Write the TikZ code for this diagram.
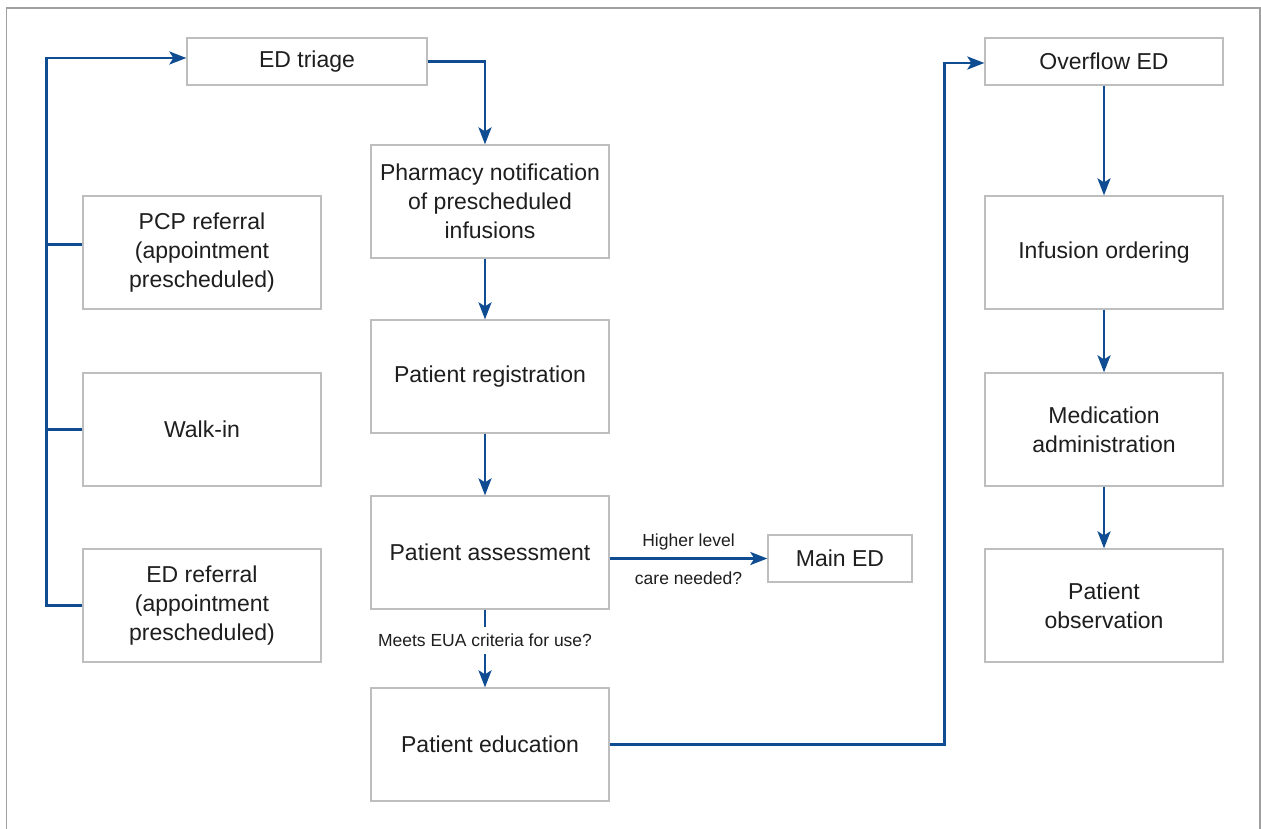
\documentclass[tikz,border=0pt]{standalone}
\usepackage{fontspec}
\setmainfont{Liberation Sans}
\usetikzlibrary{arrows.meta}
\definecolor{edblue}{RGB}{16,76,145}
\definecolor{boxgray}{RGB}{190,190,190}
\definecolor{framegray}{RGB}{160,160,160}
\definecolor{txt}{RGB}{30,30,30}
\tikzset{
  stepbox/.style={draw=boxgray, line width=1.3pt, fill=white, minimum width=238pt, minimum height=113pt,
    align=center, inner sep=0pt, text=txt, font=\fontsize{23}{29}\selectfont},
  shortbox/.style={stepbox, minimum height=47pt},
  link/.style={draw=edblue, line width=2.5pt},
  conn/.style={link, -{Stealth[length=17pt,width=13pt,inset=4pt]}},
  lbl/.style={text=txt, font=\fontsize{17.5}{20}\selectfont, inner sep=0pt},
}
\begin{document}
\begin{tikzpicture}[x=1pt,y=-1pt]
\useasboundingbox (0,0) rectangle (1261,828);
\draw[framegray, line width=1.5pt] (6.5,830) -- (6.5,8) -- (1260,8) -- (1260,830);

% left column
\node[shortbox, minimum width=240pt] (triage) at (307,61.5) {ED triage};
\node[stepbox] (pcp) at (202,252.5) {PCP referral\\(appointment\\prescheduled)};
\node[stepbox] (walk) at (202,429.5) {Walk-in};
\node[stepbox] (edref) at (202,605.5) {ED referral\\(appointment\\prescheduled)};

% middle column
\node[stepbox] (pharm) at (490,201.5) {Pharmacy notification\\of prescheduled\\infusions};
\node[stepbox] (reg) at (490,376.5) {Patient registration};
\node[stepbox] (assess) at (490,552.5) {Patient assessment};
\node[stepbox] (edu) at (490,744.5) {Patient education};
\node[shortbox, minimum width=144pt] (mained) at (840,558.5) {Main ED};

% right column
\node[shortbox] (overflow) at (1104,61.5) {Overflow ED};
\node[stepbox] (infusion) at (1104,252.5) {Infusion ordering};
\node[stepbox] (medadm) at (1104,429.5) {Medication\\administration};
\node[stepbox] (obs) at (1104,605.5) {Patient\\observation};

% left bus
\draw[conn] (edref.west) -- ++(-36,0) |- ([yshift=3.5pt]triage.west);
\draw[link] (walk.west) -- ++(-36,0);
\draw[link] ([yshift=8pt]pcp.west) -- ++(-36,0);

% middle flow
\draw[conn] (triage.east) -| ([xshift=-5pt]pharm.north);
\draw[conn] ([xshift=-5pt]pharm.south) -- ([xshift=-5pt]reg.north);
\draw[conn] ([xshift=-5pt]reg.south) -- ([xshift=-5pt]assess.north);
\draw[conn] ([xshift=-5pt]assess.south) -- node[lbl, pos=0.4, fill=white, inner ysep=7pt, inner xsep=2pt] {Meets EUA criteria for use?} ([xshift=-5pt]edu.north);
\draw[conn] (mained.west -| assess.east) -- node[lbl, above=7pt] {Higher level} node[lbl, below=12pt] {care needed?} (mained.west);

% to overflow
\draw[conn] (edu.east) -- ++(335,0) |- ([yshift=-1.5pt]overflow.west);

% right flow
\draw[conn] (overflow.south) -- (infusion.north);
\draw[conn] (infusion.south) -- (medadm.north);
\draw[conn] (medadm.south) -- (obs.north);
\end{tikzpicture}
\end{document}
